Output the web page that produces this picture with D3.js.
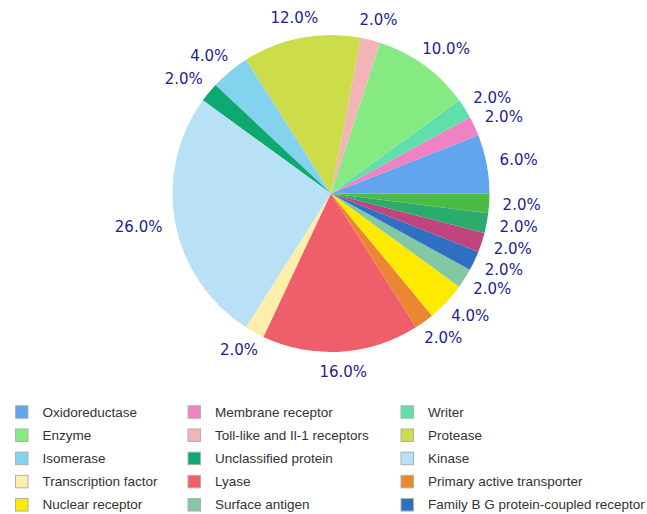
<!DOCTYPE html>
<html>
<head>
<meta charset="utf-8">
<script src="https://cdn.jsdelivr.net/npm/d3@7/dist/d3.min.js"></script>
<style>
  html, body { margin: 0; padding: 0; background: #fff; }
  svg { display: block; }
</style>
</head>
<body>
<svg id="chart" width="647" height="514"></svg>
<script>
// ---- data (counter-clockwise from 3 o'clock, legend in row order) ----
const categories = [
  "Oxidoreductase", "Membrane receptor", "Writer",
  "Enzyme", "Toll-like and Il-1 receptors", "Protease",
  "Isomerase", "Unclassified protein", "Kinase",
  "Transcription factor", "Lyase", "Primary active transporter",
  "Nuclear receptor", "Surface antigen", "Family B G protein-coupled receptor",
  "Other cytosolic protein", "Transferase", "Hydrolase"
];
const percentages = [6, 2, 2, 10, 2, 12, 4, 2, 26, 2, 16, 2, 4, 2, 2, 2, 2, 2];
const colors = [
  "#61a5ee", "#ee82c3", "#5fdfa9",
  "#86ea82", "#f3b4b5", "#cddc49",
  "#83d2ee", "#0da970", "#b8e1f5",
  "#fcefaa", "#ef5f6b", "#eb8634",
  "#fdea00", "#82c8a2", "#2f70c2",
  "#c0447e", "#2cac6c", "#4cbb46"
];

const data = categories.map((c, i) => ({ name: c, value: percentages[i], color: colors[i] }));

const W = 647, H = 514;
const cx = 331, cy = 193.5, r = 158.5;
const svg = d3.select("#chart");

const pie = d3.pie().sort(null).value(d => d.value)
  .startAngle(Math.PI / 2).endAngle(Math.PI / 2 - 2 * Math.PI);
const arcs = pie(data);
const arc = d3.arc().innerRadius(0).outerRadius(r);

const g = svg.append("g").attr("transform", `translate(${cx},${cy})`);
g.selectAll("path.slice").data(arcs).join("path")
  .attr("class", "slice")
  .attr("d", arc)
  .attr("fill", d => d.data.color);

// ---- labels ----
const fmt = d3.format(".1f");
const R = r + 13.5;
const lh = 14;
const labels = g.selectAll("text.lbl").data(arcs).join("text")
  .attr("class", "lbl")
  .attr("font-family", "'DejaVu Sans', Verdana, sans-serif")
  .attr("font-size", 15)
  .attr("fill", "#1e1e8c")
  .attr("text-anchor", "middle")
  .attr("dominant-baseline", "central")
  .text(d => fmt(d.data.value) + "%");

labels.each(function(d) {
  const w = this.getComputedTextLength();
  const a = (d.startAngle + d.endAngle) / 2;
  const s = Math.sin(a), c = Math.cos(a);
  const x = R * s + (w / 2) * s;
  const y = -R * c - (lh / 2) * c;
  d3.select(this).attr("x", x).attr("y", y);
});

// ---- legend ----
const cols = 3;
const colX = [15.5, 188, 401];
const textOff = 27;
const rowY0 = 412, rowH = 23.2, sw = 12.5;
const legend = svg.append("g");
data.forEach((d, i) => {
  const col = i % cols, row = Math.floor(i / cols);
  const y = rowY0 + row * rowH;
  if (y + sw / 2 > H) return;
  const x = colX[col];
  legend.append("rect")
    .attr("x", x).attr("y", y - sw / 2)
    .attr("width", sw).attr("height", sw)
    .attr("fill", d.color)
    .attr("stroke", "#b0b0b0").attr("stroke-width", 1);
  legend.append("text")
    .attr("x", x + textOff).attr("y", y)
    .attr("dominant-baseline", "central")
    .attr("font-family", "'Liberation Sans', Arial, sans-serif")
    .attr("font-size", 13.5)
    .attr("fill", "#333")
    .text(d.name);
});
</script>
</body>
</html>
